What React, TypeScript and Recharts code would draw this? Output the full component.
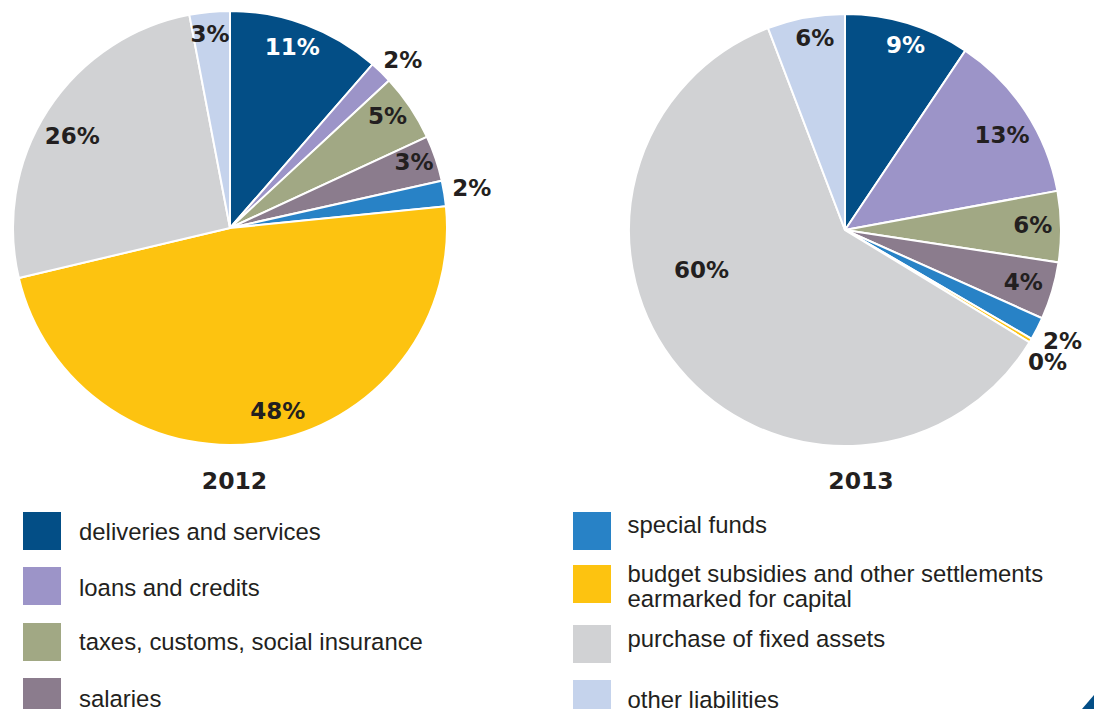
import { PieChart, Pie, Cell } from "recharts";

const categories = [
  "deliveries and services",
  "loans and credits",
  "taxes, customs, social insurance",
  "salaries",
  "special funds",
  "budget subsidies and other settlements earmarked for capital",
  "purchase of fixed assets",
  "other liabilities",
];

const colors = ["#034e86", "#9c94c8", "#a1a884", "#8b7c8d", "#2882c6", "#fdc310", "#d1d2d4", "#c5d3ec"];

const values2012 = [11.4, 1.7, 5.0, 3.4, 1.9, 47.9, 25.7, 3.0];
const labels2012 = ["11%", "2%", "5%", "3%", "2%", "48%", "26%", "3%"];

const values2013 = [9.4, 12.7, 5.3, 4.3, 1.7, 0.3, 60.5, 5.8];
const labels2013 = ["9%", "13%", "6%", "4%", "2%", "0%", "60%", "6%"];

// label placement: r = fraction of radius, d = clockwise shift in degrees
const place2012 = [
  { r: 0.88, d: -1.5 }, { r: 1.11, d: 1.7 }, { r: 0.89, d: -1.5 }, { r: 0.9, d: -0.9 },
  { r: 1.13, d: -0.3 }, { r: 0.87, d: -5.1 }, { r: 0.84, d: -2.8 }, { r: 0.9, d: -0.5 },
];
const place2013 = [
  { r: 0.9, d: 1.2 }, { r: 0.85, d: 2.1 }, { r: 0.87, d: -0.6 }, { r: 0.86, d: -0.2 },
  { r: 1.13, d: -0.2 }, { r: 1.12, d: 2.4 }, { r: 0.69, d: 24.2 }, { r: 0.9, d: 1.5 },
];

const RAD = Math.PI / 180;
const dark = "#231f20";

const makeLabel = (labels: string[], place: { r: number; d: number }[]) => (props: any) => {
  const { cx, cy, midAngle, outerRadius, index } = props;
  const p = place[index];
  const a = (midAngle - p.d) * RAD;
  const x = cx + outerRadius * p.r * Math.cos(a);
  const y = cy - outerRadius * p.r * Math.sin(a);
  return (
    <text
      x={x}
      y={y}
      textAnchor="middle"
      dominantBaseline="central"
      fill={index === 0 ? "#ffffff" : dark}
      fontFamily="DejaVu Sans"
      fontWeight="bold"
      fontSize={23}
    >
      {labels[index]}
    </text>
  );
};

const data2012 = categories.map((name, i) => ({ name, value: values2012[i] }));
const data2013 = categories.map((name, i) => ({ name, value: values2013[i] }));

// legend layout
const legendLeft = [
  { i: 0, y: 512, lines: [539.5] },
  { i: 1, y: 567, lines: [595.7] },
  { i: 2, y: 623, lines: [650] },
  { i: 3, y: 678, lines: [706.5] },
];
const legendRight = [
  { i: 4, y: 512, lines: [533.3] },
  { i: 5, y: 565, lines: [581.7, 606.7] },
  { i: 6, y: 625, lines: [646.7] },
  { i: 7, y: 680, lines: [708] },
];
const legendLines: Record<number, string[]> = {
  5: ["budget subsidies and other settlements", "earmarked for capital"],
};

export default function App() {
  const legendItem = (item: { i: number; y: number; lines: number[] }, sx: number, tx: number) => {
    const texts = legendLines[item.i] ?? [categories[item.i]];
    return (
      <g key={item.i}>
        <rect x={sx} y={item.y} width={38} height={38} fill={colors[item.i]} />
        {texts.map((t, k) => (
          <text key={k} x={tx} y={item.lines[k]} fill={dark} fontFamily="Liberation Sans, Arial" fontSize={23.9}>
            {t}
          </text>
        ))}
      </g>
    );
  };

  return (
    <div style={{ position: "absolute", left: 0, top: 0, width: 1094, height: 709, background: "#fff", overflow: "hidden" }}>
      <PieChart width={1094} height={709} margin={{ top: 0, right: 0, bottom: 0, left: 0 }}>
        <Pie
          data={data2012}
          dataKey="value"
          cx={230}
          cy={228}
          outerRadius={217}
          startAngle={90}
          endAngle={-270}
          stroke="#ffffff"
          strokeWidth={2}
          labelLine={false}
          label={makeLabel(labels2012, place2012)}
          isAnimationActive={false}
        >
          {data2012.map((d, i) => (
            <Cell key={d.name} fill={colors[i]} />
          ))}
        </Pie>
        <Pie
          data={data2013}
          dataKey="value"
          cx={845}
          cy={230}
          outerRadius={216}
          startAngle={90}
          endAngle={-270}
          stroke="#ffffff"
          strokeWidth={2}
          labelLine={false}
          label={makeLabel(labels2013, place2013)}
          isAnimationActive={false}
        >
          {data2013.map((d, i) => (
            <Cell key={d.name} fill={colors[i]} />
          ))}
        </Pie>
      </PieChart>
      <svg width={1094} height={709} style={{ position: "absolute", left: 0, top: 0, pointerEvents: "none" }}>
        <text x={234.5} y={489} textAnchor="middle" fill={dark} fontFamily="DejaVu Sans" fontWeight="bold" fontSize={23.5}>
          2012
        </text>
        <text x={861} y={489} textAnchor="middle" fill={dark} fontFamily="DejaVu Sans" fontWeight="bold" fontSize={23.5}>
          2013
        </text>
        {legendLeft.map((it) => legendItem(it, 23, 79))}
        {legendRight.map((it) => legendItem(it, 573, 627.5))}
        <polygon points="1082,709 1094,709 1094,695" fill="#034e86" />
      </svg>
    </div>
  );
}
